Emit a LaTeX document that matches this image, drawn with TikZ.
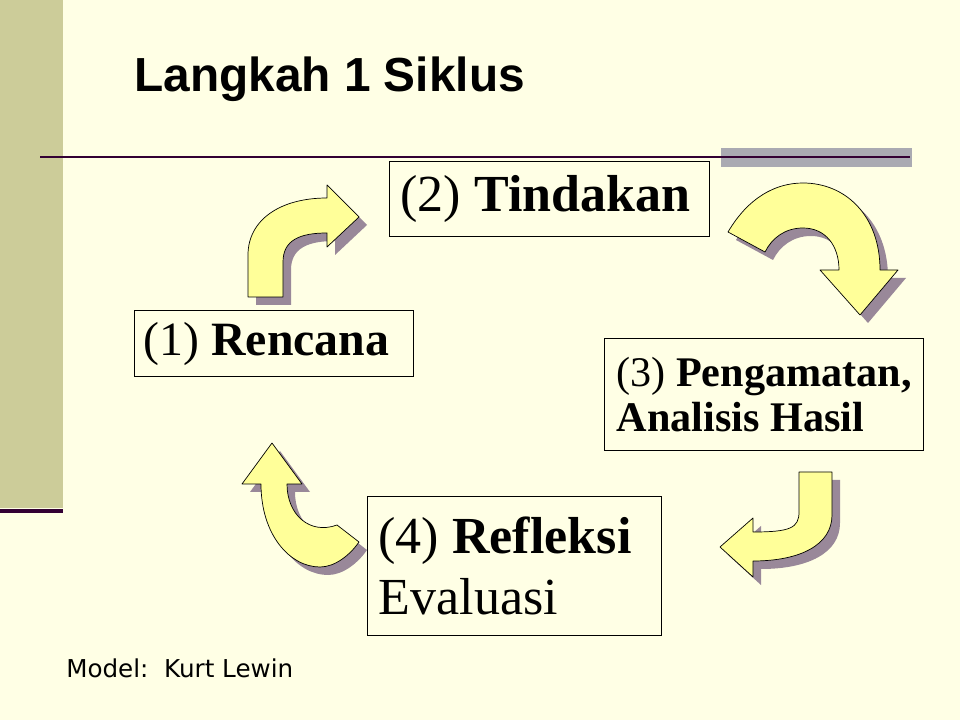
\documentclass[tikz,border=0pt]{standalone}
\usepackage{fontspec}
\setmainfont{Liberation Serif}
\newfontfamily\judulfont{Liberation Sans}
\newfontfamily\catatanfont{DejaVu Sans}
\definecolor{latar}{RGB}{255,255,229}
\definecolor{pita}{RGB}{204,204,153}
\definecolor{garis}{RGB}{51,0,51}
\definecolor{abu}{RGB}{170,170,178}
\definecolor{panahisi}{RGB}{255,255,153}
\definecolor{panahbayang}{RGB}{153,136,153}
% outlines of the four curved block arrows (pixel grid, y down)
\newcommand{\panahsatu}{(248,297) -- (248,255) .. controls (248,220) and (280,198) .. (327,198) -- (327,185) -- (359,217) -- (327,247) -- (327,233) .. controls (300,233) and (283,240) .. (283,262) -- (283,297) -- cycle}
\newcommand{\panahdua}{(728,232) .. controls (748,198) and (775,183) .. (803,183) .. controls (845,183) and (880,215) .. (880,270) -- (898,270) -- (860,315) -- (820,270) -- (839,270) .. controls (839,245) and (825,228) .. (803,228) .. controls (785,228) and (772,238) .. (765,252) -- cycle}
\newcommand{\panahtiga}{(799,472) -- (832,472) -- (832,515) .. controls (832,545) and (800,561) .. (753,561) -- (753,577) -- (720,547) -- (753,518) -- (753,532) .. controls (790,532) and (799,528) .. (799,512) -- cycle}
\newcommand{\panahempat}{(272,443) -- (302,484) -- (287,484) .. controls (287,515) and (310,535) .. (337,525) -- (359,542) .. controls (350,555) and (335,567) .. (320,567) .. controls (290,567) and (261,535) .. (261,484) -- (242,484) -- cycle}
\begin{document}
\begin{tikzpicture}[x=0.025cm, y=-0.025cm,
		kotak/.style={draw, line width=0.9pt, anchor=north west, align=left, inner ysep=0pt,
			execute at begin node={\spaceskip=0pt\xspaceskip=0pt\hyphenpenalty=10000\relax}},
		panah/.style={fill=panahisi, draw=black, line width=0.5pt, line join=round},
		bayang/.style={fill=panahbayang, shift={(8,8)}}]
		\useasboundingbox (0,0) rectangle (960,720);
		\fill[latar] (0,0) rectangle (960,720);
		% slide frame
		\fill[pita] (0,0) rectangle (63,508);
		\draw[garis, line width=3.5pt] (0,511) -- (63,511);
		\fill[abu] (721,148) rectangle (912,167);
		\draw[garis, line width=2pt] (40,157) -- (910,157);
		\node [anchor=base west, inner sep=0pt] (judul) at (134,92) {\judulfont\bfseries\fontsize{34}{38}\selectfont Langkah 1 Siklus};
		% arrows
		\fill[bayang] \panahsatu;
		\fill[bayang] \panahdua;
		\fill[bayang] \panahtiga;
		\fill[bayang] \panahempat;
		\draw[panah] \panahsatu;
		\draw[panah] \panahdua;
		\draw[panah] \panahtiga;
		\draw[panah] \panahempat;
		% steps
		\node [kotak, minimum width=6.975cm, minimum height=1.65cm, inner xsep=0.225cm, text width=6.525cm, font=\fontsize{34}{38}\selectfont] (rencana) at (134,310) {(1) \textbf{Rencana}};
		\node [kotak, minimum width=8cm, minimum height=1.875cm, inner xsep=0.275cm, text width=7.45cm, font=\fontsize{37}{42}\selectfont] (tindakan) at (389,161) {(2) \textbf{Tindakan}};
		\node [kotak, minimum width=7.975cm, minimum height=2.8cm, inner xsep=0.3cm, text width=7.375cm, font=\fontsize{30}{32}\selectfont] (amat) at (604,338) {(3)~\textbf{Pengamatan,}\\\textbf{Analisis Hasil}};
		\node [kotak, minimum width=7.35cm, minimum height=3.475cm, inner xsep=0.275cm, text width=6.8cm, font=\fontsize{37}{43}\selectfont] (refleksi) at (367,496) {(4) \textbf{Refleksi}\\Evaluasi};
		\node [anchor=base west, inner sep=0pt] (model) at (66,677) {\catatanfont\fontsize{17.5}{20}\selectfont Model:\ \ Kurt Lewin};
	\end{tikzpicture}
\end{document}
